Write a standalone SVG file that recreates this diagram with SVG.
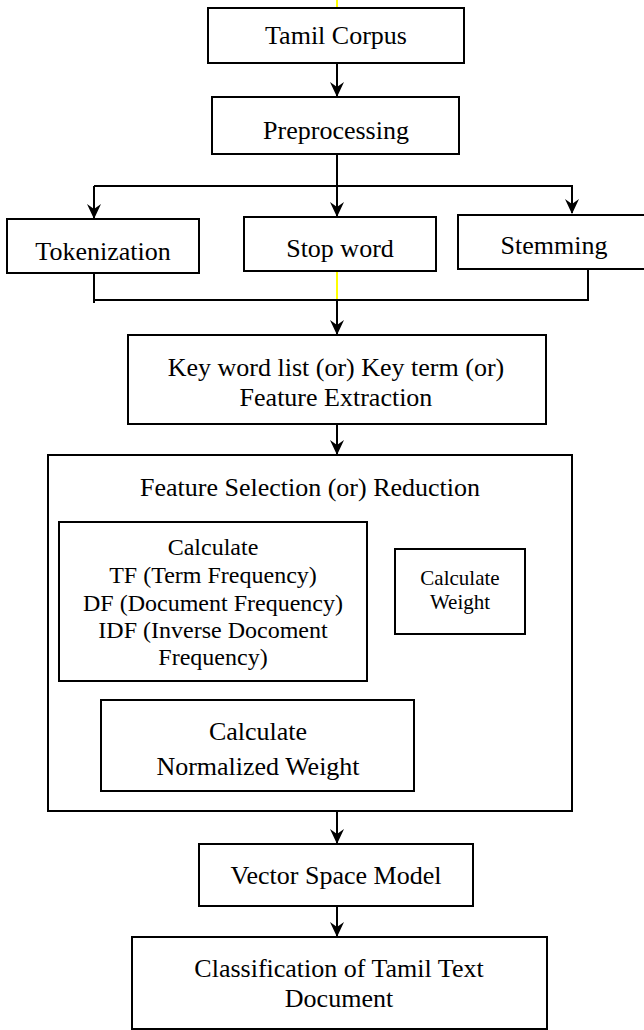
<svg xmlns="http://www.w3.org/2000/svg" width="644" height="1030" viewBox="0 0 644 1030">
<style>
.box{fill:#fff;stroke:#000;stroke-width:2}
.t{font-family:"Liberation Serif","Times New Roman",serif;font-size:26px;fill:#000;text-anchor:middle}
.m{font-size:24px}
.s{font-size:21px}
.c{fill:none;stroke:#000;stroke-width:2}
.y{fill:none;stroke:#ffff00;stroke-width:2}
</style>
<defs>
<marker id="ah" markerWidth="16" markerHeight="16" refX="14" refY="7" orient="auto" markerUnits="userSpaceOnUse">
<path d="M0,0 L15,7 L0,14 L5,7 z" fill="#000"/>
</marker>
</defs>
<rect width="644" height="1030" fill="#fff"/>
<g id="connectors">
<line class="y" x1="337" y1="0" x2="337" y2="8"/>
<line class="c" x1="337" y1="63" x2="337" y2="96" marker-end="url(#ah)"/>
<line class="c" x1="337" y1="154" x2="337" y2="186"/>
<polyline class="c" points="94,186 572,186 572,213" marker-end="url(#ah)"/>
<line class="c" x1="94" y1="186" x2="94" y2="218" marker-end="url(#ah)"/>
<line class="c" x1="337" y1="186" x2="337" y2="216" marker-end="url(#ah)"/>
<polyline class="c" points="94,273 94,303"/>
<polyline class="c" points="94,300 588,300 588,269"/>
<line class="y" x1="337" y1="272" x2="337" y2="299"/>
<line class="c" x1="337" y1="300" x2="337" y2="334" marker-end="url(#ah)"/>
<line class="c" x1="337" y1="424" x2="337" y2="454" marker-end="url(#ah)"/>
<line class="c" x1="367" y1="590" x2="394" y2="590" marker-end="url(#ah)"/>
<polyline class="c" points="459,634 459,747 416,747" marker-end="url(#ah)"/>
<line class="c" x1="337" y1="811" x2="337" y2="843" marker-end="url(#ah)"/>
<line class="c" x1="337" y1="906" x2="337" y2="936" marker-end="url(#ah)"/>
</g>
<g id="tamil-corpus">
<rect class="box" x="208" y="8" width="256" height="55"/>
<text class="t" x="336" y="44">Tamil Corpus</text>
</g>
<g id="preprocessing">
<rect class="box" x="212" y="97" width="247" height="57"/>
<text class="t" x="336" y="139">Preprocessing</text>
</g>
<g id="tokenization">
<rect class="box" x="7" y="219" width="192" height="54"/>
<text class="t" x="103" y="260">Tokenization</text>
</g>
<g id="stop-word">
<rect class="box" x="244" y="217" width="192" height="54"/>
<text class="t" x="340" y="257">Stop word</text>
</g>
<g id="stemming">
<rect class="box" x="458" y="215" width="192" height="54"/>
<text class="t" x="554" y="254">Stemming</text>
</g>
<g id="feature-extraction">
<rect class="box" x="128" y="335" width="418" height="89"/>
<text class="t" x="336" y="376">Key word list (or) Key term (or)</text>
<text class="t" x="336" y="406">Feature Extraction</text>
</g>
<g id="feature-selection">
<rect class="box" x="48" y="455" width="524" height="356"/>
<text class="t" x="310" y="496">Feature Selection (or) Reduction</text>
</g>
<g id="calc-tf-df-idf">
<rect class="box" x="59" y="522" width="308" height="159"/>
<text class="t m" x="213" y="555">Calculate</text>
<text class="t m" x="213" y="583">TF (Term Frequency)</text>
<text class="t m" x="213" y="611">DF (Document Frequency)</text>
<text class="t m" x="213" y="638">IDF (Inverse Docoment</text>
<text class="t m" x="213" y="665">Frequency)</text>
</g>
<g id="calc-weight">
<rect class="box" x="395" y="549" width="130" height="85"/>
<text class="t s" x="460" y="585">Calculate</text>
<text class="t s" x="460" y="609">Weight</text>
</g>
<g id="calc-normalized">
<rect class="box" x="101" y="700" width="313" height="91"/>
<text class="t" x="258" y="740">Calculate</text>
<text class="t" x="258" y="775">Normalized Weight</text>
</g>
<g id="vector-space-model">
<rect class="box" x="199" y="844" width="274" height="62"/>
<text class="t" x="336" y="884">Vector Space Model</text>
</g>
<g id="classification">
<rect class="box" x="132" y="937" width="415" height="92"/>
<text class="t" x="339" y="977">Classification of Tamil Text</text>
<text class="t" x="339" y="1007">Document</text>
</g>
</svg>
